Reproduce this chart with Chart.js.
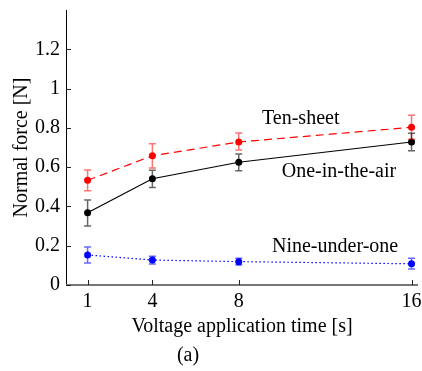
<!DOCTYPE html>
<html>
<head>
<meta charset="utf-8">
<script src="https://cdn.jsdelivr.net/npm/chart.js@4"></script>
<style>
  html, body { margin: 0; padding: 0; background: #fff; }
  #wrap { width: 422px; height: 371px; }
</style>
</head>
<body>
<div id="wrap"><canvas id="myChart" width="422" height="371"></canvas></div>
<script>
// data
const times = [1, 4, 8, 16];
const yTicks = [0, 0.2, 0.4, 0.6, 0.8, 1, 1.2];

const tenSheet = [0.533, 0.658, 0.728, 0.803];
const tenSheetLo = [0.480, 0.596, 0.687, 0.742];
const tenSheetHi = [0.586, 0.719, 0.774, 0.864];

const oneInAir = [0.368, 0.541, 0.625, 0.728];
const oneInAirLo = [0.300, 0.497, 0.582, 0.684];
const oneInAirHi = [0.433, 0.584, 0.667, 0.772];

const nineUnder = [0.153, 0.127, 0.119, 0.108];
const nineUnderLo = [0.112, 0.107, 0.102, 0.081];
const nineUnderHi = [0.193, 0.147, 0.136, 0.136];

// text labels next to the curves: [text, x, y]
const curveLabels = [
    ['Ten-sheet', 10.87, 0.845],
    ['One-in-the-air', 12.64, 0.575],
    ['Nine-under-one', 12.46, 0.193]
];

const FONT = "'Liberation Serif', 'DejaVu Serif', serif";

function pts(vals) {
    return times.map((t, i) => ({x: t, y: vals[i]}));
}

// error bars, inward ticks, labels, caption
const extras = {
    id: 'extras',
    afterDatasetsDraw(chart) {
        const c = chart.ctx;
        const xs = chart.scales.x, ys = chart.scales.y;
        const area = chart.chartArea;
        const bars = [
            [tenSheetLo, tenSheetHi, 'rgba(255,0,0,0.55)'],
            [oneInAirLo, oneInAirHi, 'rgba(0,0,0,0.6)'],
            [nineUnderLo, nineUnderHi, 'rgba(0,0,255,0.6)']
        ];
        c.save();
        bars.forEach(b => {
            c.strokeStyle = b[2];
            c.lineWidth = 1.5;
            times.forEach((t, i) => {
                const px = xs.getPixelForValue(t);
                const y1 = ys.getPixelForValue(b[0][i]);
                const y2 = ys.getPixelForValue(b[1][i]);
                c.beginPath();
                c.moveTo(px, y1); c.lineTo(px, y2);
                c.moveTo(px - 3.5, y1); c.lineTo(px + 3.5, y1);
                c.moveTo(px - 3.5, y2); c.lineTo(px + 3.5, y2);
                c.stroke();
            });
        });

        // axes
        c.strokeStyle = '#000';
        c.lineWidth = 1;
        c.beginPath();
        c.moveTo(area.left + 0.5, area.top);
        c.lineTo(area.left + 0.5, area.bottom);
        c.stroke();
        c.strokeStyle = '#777';
        c.lineWidth = 2;
        c.beginPath();
        c.moveTo(area.left, area.bottom);
        c.lineTo(area.right, area.bottom);
        c.stroke();

        // inward ticks
        c.strokeStyle = '#222';
        c.lineWidth = 1;
        c.beginPath();
        yTicks.forEach(v => {
            const py = Math.round(ys.getPixelForValue(v)) + 0.5;
            c.moveTo(area.left, py); c.lineTo(area.left + 5, py);
        });
        times.forEach(t => {
            const px = Math.round(xs.getPixelForValue(t)) + 0.5;
            c.moveTo(px, area.bottom); c.lineTo(px, area.bottom - 5);
        });
        c.stroke();

        c.fillStyle = '#000';
        c.font = '20px ' + FONT;
        c.textAlign = 'center';
        c.textBaseline = 'middle';
        curveLabels.forEach(l => {
            c.fillText(l[0], xs.getPixelForValue(l[1]), ys.getPixelForValue(l[2]));
        });
        c.fillText('(a)', 188, 356);
        c.restore();
    }
};

const ctx = document.getElementById('myChart').getContext('2d');
const myChart = new Chart(ctx, {
    type: 'line',
    data: {
        datasets: [{
            label: 'Ten-sheet',
            data: pts(tenSheet),
            borderColor: '#ff0000',
            backgroundColor: '#ff0000',
            borderWidth: 1.2,
            borderDash: [8, 5],
            pointRadius: 3.5,
            pointBorderWidth: 0
        }, {
            label: 'One-in-the-air',
            data: pts(oneInAir),
            borderColor: '#000000',
            backgroundColor: '#000000',
            borderWidth: 1.2,
            pointRadius: 3.5,
            pointBorderWidth: 0
        }, {
            label: 'Nine-under-one',
            data: pts(nineUnder),
            borderColor: '#0000ff',
            backgroundColor: '#0000ff',
            borderWidth: 1.2,
            borderDash: [1.5, 2.5],
            pointRadius: 3.5,
            pointBorderWidth: 0
        }]
    },
    options: {
        responsive: false,
        animation: false,
        layout: {padding: {left: 0, right: 0, top: 10, bottom: 32}},
        plugins: {legend: {display: false}, tooltip: {enabled: false}},
        scales: {
            x: {
                type: 'linear',
                min: 0,
                max: 16.3,
                afterBuildTicks: (s) => { s.ticks = times.map(v => ({value: v})); },
                afterFit: (s) => { s.height = 54; s.paddingLeft = 0; s.paddingRight = 0; },
                grid: {display: false, drawTicks: false},
                border: {display: false},
                ticks: {color: '#000', padding: 5, maxRotation: 0, font: {family: FONT, size: 20},
                        callback: (v) => String(v)},
                title: {display: true, text: 'Voltage application time [s]', color: '#000',
                        padding: {top: 0, bottom: 0}, font: {family: FONT, size: 20}}
            },
            y: {
                min: 0,
                max: 1.4,
                afterBuildTicks: (s) => { s.ticks = yTicks.map(v => ({value: v})); },
                afterFit: (s) => { s.width = 66; s.paddingTop = 0; s.paddingBottom = 0; },
                grid: {display: false, drawTicks: false},
                border: {display: false},
                ticks: {color: '#000', padding: 6, font: {family: FONT, size: 20},
                        callback: (v) => String(v)},
                title: {display: true, text: 'Normal force [N]', color: '#000',
                        padding: {top: 10, bottom: 0}, font: {family: FONT, size: 20}}
            }
        }
    },
    plugins: [extras]
});
</script>
</body>
</html>
